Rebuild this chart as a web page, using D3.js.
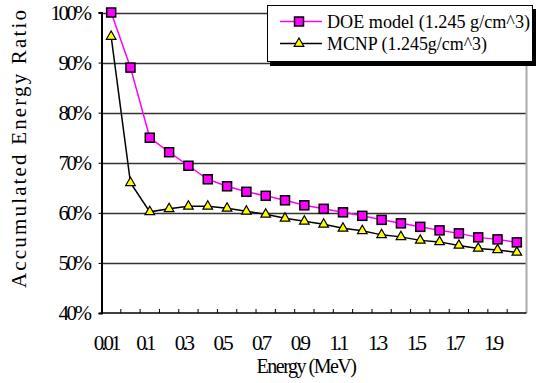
<!DOCTYPE html>
<html><head><meta charset="utf-8">
<script src="https://cdn.jsdelivr.net/npm/d3@7"></script>
<style>
html,body{margin:0;padding:0;background:#fff;}
svg{display:block;}
text{font-family:"Liberation Serif","Times New Roman",serif;fill:#000;}
</style></head>
<body>
<svg id="c" width="536" height="383"></svg>
<script>
const categories = ["0.01","0.05","0.1","0.2","0.3","0.4","0.5","0.6","0.7","0.8","0.9","1","1.1","1.2","1.3","1.4","1.5","1.6","1.7","1.8","1.9","2"];
const tickLabels = ["0.01","0.1","0.3","0.5","0.7","0.9","1.1","1.3","1.5","1.7","1.9"];
const doeValues = [1.000,0.890,0.750,0.721,0.694,0.667,0.653,0.642,0.634,0.625,0.615,0.608,0.601,0.594,0.586,0.579,0.572,0.565,0.559,0.551,0.547,0.541];
const mcnpValues = [0.952,0.660,0.602,0.608,0.613,0.613,0.609,0.603,0.597,0.589,0.583,0.577,0.569,0.564,0.556,0.552,0.545,0.542,0.535,0.529,0.526,0.521];
const yTicks = [0.4,0.5,0.6,0.7,0.8,0.9,1.0];
const seriesNames = ["DOE model (1.245 g/cm^3)","MCNP (1.245g/cm^3)"];

const svg = d3.select("#c");
const L = 101.5, R = 526.5, T = 12.5, B = 313;
const x = d3.scaleBand().domain(categories).range([L, R]).padding(0);
const y = d3.scaleLinear().domain([0.4, 1.0]).range([B, T]);
const cx = d => x(d) + x.bandwidth() / 2;

// gridlines
svg.append("g").selectAll("line").data(yTicks.filter(v => v > 0.4)).join("line")
  .attr("x1", L).attr("x2", R).attr("y1", d => Math.round(y(d)) + 0.5).attr("y2", d => Math.round(y(d)) + 0.5)
  .attr("stroke", "#333").attr("stroke-width", 1.3);

// right border
svg.append("line").attr("x1", R).attr("x2", R).attr("y1", T).attr("y2", B)
  .attr("stroke", "#aaa").attr("stroke-width", 2);

// y axis
const yAxis = svg.append("g").attr("transform", `translate(${L},0)`)
  .call(d3.axisLeft(y).tickValues(yTicks).tickSize(3).tickPadding(9).tickFormat(d => Math.round(d * 100) + "%"));
yAxis.select(".domain").attr("stroke", "#000").attr("stroke-width", 2);
yAxis.selectAll(".tick line").attr("stroke", "#000");
yAxis.selectAll("text").attr("font-size", 21).attr("letter-spacing", "-2.5px")
  .attr("font-family", "Liberation Serif, serif").attr("fill", "#000");

// x axis
const xAxis = svg.append("g").attr("transform", `translate(0,${B})`)
  .call(d3.axisBottom(x).tickValues(tickLabels).tickSize(0).tickPadding(22));
xAxis.select(".domain").remove();
xAxis.selectAll("text").attr("font-size", 21).attr("letter-spacing", "-3px").attr("dx", -5)
  .attr("font-family", "Liberation Serif, serif").attr("fill", "#000");
svg.append("line").attr("x1", L - 1).attr("x2", R).attr("y1", B).attr("y2", B).attr("stroke", "#000").attr("stroke-width", 1.5);
svg.append("g").selectAll("line").data(categories.slice(1)).join("line")
  .attr("x1", d => x(d)).attr("x2", d => x(d)).attr("y1", B).attr("y2", B - 4)
  .attr("stroke", "#000").attr("stroke-width", 1);

// lines
const line = vals => d3.line().x((d, i) => cx(categories[i])).y(d => y(d))(vals);
svg.append("path").attr("d", line(doeValues)).attr("fill", "none").attr("stroke", "#ff00ff").attr("stroke-width", 1.5);
svg.append("path").attr("d", line(mcnpValues)).attr("fill", "none").attr("stroke", "#000").attr("stroke-width", 1.5);

const sq = 9;
const tri = d3.symbol().type(d3.symbolTriangle).size(40);
svg.append("g").selectAll("path").data(mcnpValues).join("path")
  .attr("d", tri).attr("transform", (d, i) => `translate(${cx(categories[i])},${y(d)})`)
  .attr("fill", "#ffff00").attr("stroke", "#000").attr("stroke-width", 1.2);
svg.append("g").selectAll("rect").data(doeValues).join("rect")
  .attr("x", (d, i) => cx(categories[i]) - sq / 2).attr("y", d => y(d) - sq / 2)
  .attr("width", sq).attr("height", sq)
  .attr("fill", "#ff00ff").attr("stroke", "#000").attr("stroke-width", 1.5);

// legend
const lg = svg.append("g");
lg.append("rect").attr("x", 270).attr("y", 9).attr("width", 266).attr("height", 57).attr("fill", "#000");
lg.append("rect").attr("x", 267.5).attr("y", 5.5).attr("width", 265).attr("height", 56).attr("fill", "#fff").attr("stroke", "#000").attr("stroke-width", 1);
const rows = [{y: 21.5, color: "#ff00ff", mark: "sq", w: 203}, {y: 43.5, color: "#000", mark: "tri", w: 160}];
rows.forEach((r, i) => {
  lg.append("line").attr("x1", 280).attr("x2", 322).attr("y1", r.y).attr("y2", r.y).attr("stroke", r.color).attr("stroke-width", 1.5);
  if (r.mark === "sq") {
    lg.append("rect").attr("x", 299 - sq / 2).attr("y", r.y - sq / 2).attr("width", sq).attr("height", sq)
      .attr("fill", "#ff00ff").attr("stroke", "#000").attr("stroke-width", 1.5);
  } else {
    lg.append("path").attr("d", tri).attr("transform", `translate(299,${r.y})`)
      .attr("fill", "#ffff00").attr("stroke", "#000").attr("stroke-width", 1.2);
  }
  lg.append("text").attr("x", 327).attr("y", r.y + 6).attr("font-size", 18)
    .attr("textLength", r.w).attr("lengthAdjust", "spacingAndGlyphs").text(seriesNames[i]);
});

// axis titles
svg.append("text").attr("x", 306).attr("y", 373).attr("text-anchor", "middle").attr("font-size", 20)
  .attr("letter-spacing", "-1.5px").text("Energy (MeV)");
svg.append("text").attr("transform", "translate(26,149) rotate(-90)").attr("text-anchor", "middle")
  .attr("font-size", 21).attr("textLength", 278).attr("lengthAdjust", "spacing").text("Accumulated Energy Ratio");
</script>
</body></html>
